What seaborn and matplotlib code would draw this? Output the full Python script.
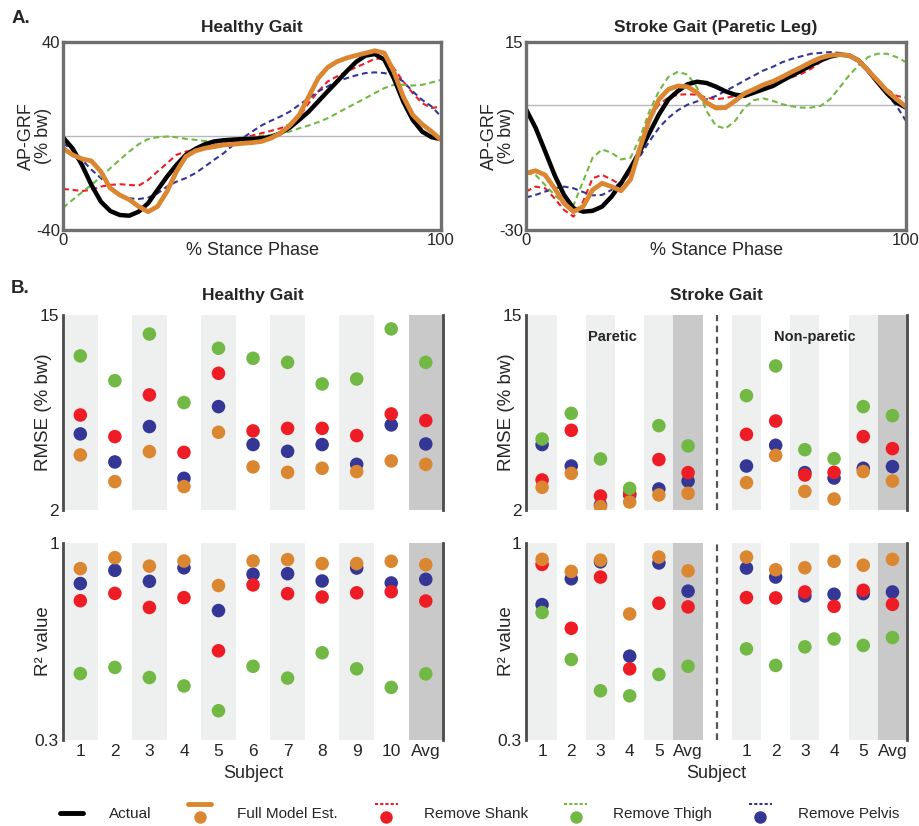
import numpy as np
import pandas as pd
import matplotlib
matplotlib.use("Agg")
import matplotlib.pyplot as plt
import seaborn as sns
from matplotlib.lines import Line2D
from matplotlib.legend_handler import HandlerBase

sns.set_style("white")
plt.rcParams['font.family'] = ['Liberation Sans', 'DejaVu Sans']
plt.rcParams['axes.unicode_minus'] = False

# ---- A. AP-GRF over stance (values every 2.5 %) ----
pct = np.arange(0, 100.1, 2.5)

healthy_actual = [-0.6, -5.2, -12.3, -20.8, -27.9, -31.9, -33.6, -33.9, -32.2, -28.6, -22.9,
                  -17.3, -12.3, -8.0, -5.5, -3.5, -2.3, -1.8, -1.5, -1.3, -1.2, -0.9, -0.4,
                  1.2, 3.6, 6.9, 10.4, 14.7, 19.0, 23.2, 27.5, 31.5, 34.2, 34.9, 32.5, 24.6,
                  14.7, 6.9, 1.9, -0.5, -1.3]
healthy_full = [-5.2, -8.0, -9.7, -10.6, -15.1, -22.2, -25.1, -27.0, -30.0, -32.2, -30.0,
                -23.6, -15.1, -8.7, -6.3, -5.2, -4.5, -3.8, -3.5, -3.1, -2.8, -2.3, -0.9,
                1.2, 4.5, 9.0, 16.8, 24.6, 29.2, 31.7, 33.2, 34.3, 35.3, 36.3, 35.3, 27.5,
                16.8, 9.0, 5.0, 1.9, -1.6]
healthy_shank = [-22.5, -22.9, -23.4, -22.9, -21.5, -20.8, -20.5, -20.8, -21.1, -18.7, -15.1,
                 -11.6, -8.0, -6.6, -5.9, -4.5, -3.8, -3.1, -2.3, -0.9, 0.2, 1.2, 2.2, 3.3,
                 5.0, 8.3, 14.0, 19.0, 23.2, 25.4, 27.5, 29.2, 31.0, 32.9, 32.9, 28.9, 23.2,
                 18.3, 14.0, 11.9, 12.6]
healthy_thigh = [-30.5, -27.2, -23.9, -20.8, -17.3, -13.7, -10.1, -6.6, -3.5, -1.3, -0.5,
                 -0.2, -0.5, -1.2, -1.6, -2.1, -2.1, -1.9, -1.6, -0.9, -0.5, 0.1, 0.5, 1.2,
                 1.9, 3.3, 4.5, 5.9, 7.6, 9.7, 11.9, 14.0, 16.1, 18.3, 20.4, 21.8, 21.8,
                 21.5, 21.8, 22.8, 23.9]
healthy_pelvis = [-3.1, -5.9, -10.1, -14.3, -17.9, -21.5, -25.1, -26.5, -26.8, -26.2, -24.4,
                  -21.5, -19.4, -17.9, -15.8, -13.0, -10.1, -7.3, -3.8, -0.9, 1.9, 4.5, 6.5,
                  8.3, 10.4, 13.3, 16.1, 19.0, 21.1, 23.2, 24.6, 25.8, 26.8, 27.1, 26.8,
                  25.8, 23.2, 19.0, 15.4, 12.6, 8.3]

stroke_actual = [-1.1, -5.5, -11.1, -16.8, -21.6, -24.8, -25.6, -25.4, -24.4, -22.0, -18.8,
                 -15.1, -11.1, -6.7, -2.3, 1.3, 3.3, 4.9, 5.5, 5.2, 4.3, 3.2, 2.4, 2.1, 2.9,
                 3.7, 4.5, 5.8, 7.0, 8.2, 9.4, 10.6, 11.5, 12.0, 11.8, 10.6, 8.2, 5.4, 2.7,
                 0.5, -0.7]
stroke_full = [-16.4, -15.8, -16.8, -20.0, -23.6, -25.6, -24.4, -20.4, -18.8, -19.6, -20.6,
               -17.9, -10.3, -3.5, 1.3, 3.7, 4.5, 4.3, 2.9, 0.5, -0.8, -0.7, 0.9, 2.7, 3.7,
               4.8, 5.6, 6.7, 7.9, 9.0, 10.2, 11.2, 11.8, 12.0, 11.8, 10.6, 8.2, 5.8, 3.3,
               1.3, -0.5]
stroke_shank = [-20.8, -19.6, -20.0, -22.4, -25.2, -26.8, -23.2, -17.6, -16.8, -17.9, -19.2,
                -16.0, -9.5, -3.5, 0.1, 1.7, 2.4, 2.5, 2.4, 1.7, 1.3, 1.6, 2.1, 2.9, 3.7,
                4.3, 5.0, 5.8, 6.6, 7.4, 8.6, 10.2, 11.4, 12.0, 11.8, 10.6, 8.2, 5.8, 3.7,
                2.1, 1.7]
stroke_thigh = [-16.4, -16.8, -19.2, -21.6, -23.6, -24.0, -18.4, -12.7, -10.7, -11.5, -13.1,
                -12.7, -7.9, -1.5, 3.3, 6.7, 7.9, 7.2, 4.1, -1.5, -5.1, -5.7, -3.9, -0.7,
                1.1, 1.5, 0.9, 0.1, -0.4, -0.7, -0.7, -0.3, 1.3, 4.1, 7.0, 9.4, 11.4, 12.2,
                12.2, 11.4, 10.2]
stroke_pelvis = [-22.2, -21.6, -20.8, -20.0, -19.6, -20.0, -20.9, -21.7, -21.6, -20.4, -18.4,
                 -15.5, -12.3, -8.7, -5.5, -3.1, -1.3, 0.0, 0.8, 1.3, 2.1, 3.3, 4.5, 5.8,
                 7.0, 8.2, 9.1, 10.2, 11.0, 11.6, 12.2, 12.4, 12.6, 12.4, 11.8, 10.2, 7.8,
                 5.4, 2.5, -0.3, -3.9]

# ---- B. per-subject errors ----
healthy_labels = ['1', '2', '3', '4', '5', '6', '7', '8', '9', '10', 'Avg']
healthy_rmse_full = [5.67, 3.89, 5.89, 3.56, 7.18, 4.87, 4.51, 4.78, 4.56, 5.27, 5.04]
healthy_rmse_shank = [8.33, 6.89, 9.67, 5.84, 11.11, 7.27, 7.44, 7.44, 6.96, 8.40, 7.96]
healthy_rmse_thigh = [12.27, 10.62, 13.73, 9.16, 12.78, 12.11, 11.84, 10.40, 10.73, 14.07, 11.84]
healthy_rmse_pelvis = [7.07, 5.20, 7.56, 4.11, 8.89, 6.36, 5.91, 6.36, 5.04, 7.67, 6.40]
healthy_r2_full = [0.909, 0.948, 0.918, 0.936, 0.849, 0.936, 0.941, 0.927, 0.927, 0.935, 0.923]
healthy_r2_shank = [0.795, 0.821, 0.771, 0.806, 0.617, 0.851, 0.820, 0.808, 0.823, 0.827, 0.794]
healthy_r2_thigh = [0.536, 0.558, 0.522, 0.492, 0.404, 0.562, 0.520, 0.610, 0.553, 0.487, 0.535]
healthy_r2_pelvis = [0.856, 0.903, 0.864, 0.912, 0.760, 0.889, 0.891, 0.865, 0.911, 0.858, 0.871]

# paretic 1-5, Avg, then non-paretic 1-5, Avg
stroke_labels = ['1', '2', '3', '4', '5', 'Avg', '1', '2', '3', '4', '5', 'Avg']
stroke_rmse_full = [3.51, 4.44, 2.22, 2.53, 3.00, 3.11, 3.82, 5.64, 3.24, 2.73, 4.56, 3.93]
stroke_rmse_shank = [4.00, 7.31, 2.93, 3.11, 5.36, 4.49, 7.04, 7.93, 4.33, 4.51, 6.89, 6.09]
stroke_rmse_thigh = [6.73, 8.44, 5.40, 3.44, 7.62, 6.27, 9.62, 11.60, 6.02, 5.42, 8.89, 8.29]
stroke_rmse_pelvis = [6.36, 4.93, 2.33, 3.00, 3.40, 3.93, 4.93, 6.31, 4.49, 4.13, 4.78, 4.89]
stroke_r2_full = [0.942, 0.899, 0.939, 0.748, 0.950, 0.901, 0.950, 0.905, 0.912, 0.935, 0.921, 0.942]
stroke_r2_shank = [0.924, 0.697, 0.879, 0.553, 0.786, 0.773, 0.806, 0.805, 0.826, 0.775, 0.832, 0.782]
stroke_r2_thigh = [0.753, 0.586, 0.475, 0.457, 0.533, 0.562, 0.624, 0.565, 0.631, 0.659, 0.636, 0.664]
stroke_r2_pelvis = [0.781, 0.873, 0.933, 0.598, 0.929, 0.829, 0.911, 0.879, 0.812, 0.818, 0.820, 0.826]

colors = {'Actual': '#000000', 'Full Model Est.': '#DB8630', 'Remove Shank': '#EE1D25',
          'Remove Thigh': '#72B844', 'Remove Pelvis': '#343795'}
dash = (0, (2.8, 1.8))


def curve_panel(ax, series, ylim, title):
    ax.axhline(0, color='#b8b8b8', lw=1, zorder=1)
    for name, vals, lw, ls in series:
        sns.lineplot(x=pct, y=np.array(vals), ax=ax, color=colors[name], linewidth=lw,
                     linestyle=ls, errorbar=None, sort=False)
    ax.set_xlim(0, 100)
    ax.set_ylim(*ylim)
    ax.set_xticks([0, 100])
    ax.set_yticks(list(ylim))
    ax.tick_params(length=0, pad=2, labelsize=12)
    for sp in ax.spines.values():
        sp.set_color('#6f6f6f')
        sp.set_linewidth(2.4)
    ax.set_title(title, fontsize=12.5, fontweight='bold', pad=7)
    ax.set_xlabel('% Stance Phase', fontsize=13)
    ax.xaxis.set_label_coords(0.5, -0.065)
    ax.set_ylabel('AP-GRF\n(% bw)', fontsize=13, linespacing=1.0)
    ax.yaxis.set_label_coords(-0.028, 0.5)


def dot_table(pos, full, shank, thigh, pelvis):
    rows = []
    # drawing order: pelvis, shank, thigh, then full model on top
    for name, vals in [('Remove Pelvis', pelvis), ('Remove Shank', shank),
                       ('Remove Thigh', thigh), ('Full Model Est.', full)]:
        for p, v in zip(pos, vals):
            rows.append({'pos': p, 'val': v, 'model': name})
    return pd.DataFrame(rows)


def dot_panel(ax, pos, data, light, dark, xlim, ylim, ylabel, labels=None, split=None):
    for p in light:
        ax.axvspan(p - 0.5, p + 0.5, color='#EEF0EF', lw=0, zorder=0)
    for p in dark:
        ax.axvspan(p - 0.5, p + 0.5, color='#C9C9C9', lw=0, zorder=0)
    if split is not None:
        ax.axvline(split, color='#555555', lw=1.6, ls=(0, (3, 2)), zorder=1)
    sns.scatterplot(data=data, x='pos', y='val', hue='model', palette=colors, s=95,
                    edgecolor='none', linewidth=0, legend=False, ax=ax, zorder=3)
    ax.set_xlim(*xlim)
    ax.set_ylim(*ylim)
    ax.set_yticks(list(ylim))
    ax.set_yticklabels([f'{v:g}' for v in ylim])
    if labels is None:
        ax.set_xticks([])
        ax.set_xlabel('')
    else:
        ax.set_xticks(pos)
        ax.set_xticklabels(labels)
        ax.set_xlabel('Subject', fontsize=13)
        ax.xaxis.set_label_coords(0.5, -0.125)
    ax.tick_params(length=0, pad=3, labelsize=12.5)
    for s in ['top', 'bottom']:
        ax.spines[s].set_visible(False)
    for s in ['left', 'right']:
        ax.spines[s].set_color('#4a4a4a')
        ax.spines[s].set_linewidth(2)
    ax.set_ylabel(ylabel, fontsize=13.5)
    ax.yaxis.set_label_coords(-0.028, 0.5)


fig = plt.figure(figsize=(9.19, 8.26), dpi=100)

ax_h = fig.add_axes([0.0686, 0.7215, 0.4113, 0.2276])
ax_s = fig.add_axes([0.5724, 0.7215, 0.4135, 0.2276])

curve_panel(ax_h, [('Remove Shank', healthy_shank, 1.5, dash),
                   ('Remove Pelvis', healthy_pelvis, 1.5, dash),
                   ('Remove Thigh', healthy_thigh, 1.5, dash),
                   ('Actual', healthy_actual, 3.2, '-'),
                   ('Full Model Est.', healthy_full, 3.4, '-')],
            (-40, 40), 'Healthy Gait')
curve_panel(ax_s, [('Remove Shank', stroke_shank, 1.5, dash),
                   ('Remove Pelvis', stroke_pelvis, 1.5, dash),
                   ('Remove Thigh', stroke_thigh, 1.5, dash),
                   ('Actual', stroke_actual, 3.2, '-'),
                   ('Full Model Est.', stroke_full, 3.4, '-')],
            (-30, 15), 'Stroke Gait (Paretic Leg)')

h_pos = np.arange(len(healthy_labels))
s_pos = np.r_[0:6, 7:13]

ax_hr = fig.add_axes([0.0686, 0.3826, 0.4135, 0.2361])
ax_hq = fig.add_axes([0.0686, 0.1041, 0.4135, 0.2385])
ax_sr = fig.add_axes([0.5724, 0.3826, 0.4146, 0.2361])
ax_sq = fig.add_axes([0.5724, 0.1041, 0.4146, 0.2385])

dot_panel(ax_hr, h_pos, dot_table(h_pos, healthy_rmse_full, healthy_rmse_shank,
                                  healthy_rmse_thigh, healthy_rmse_pelvis),
          [0, 2, 4, 6, 8], [10], (-0.5, 10.5), (2, 15), 'RMSE (% bw)')
dot_panel(ax_hq, h_pos, dot_table(h_pos, healthy_r2_full, healthy_r2_shank,
                                  healthy_r2_thigh, healthy_r2_pelvis),
          [0, 2, 4, 6, 8], [10], (-0.5, 10.5), (0.3, 1), 'R² value', labels=healthy_labels)
dot_panel(ax_sr, s_pos, dot_table(s_pos, stroke_rmse_full, stroke_rmse_shank,
                                  stroke_rmse_thigh, stroke_rmse_pelvis),
          [0, 2, 4, 7, 9, 11], [5, 12], (-0.55, 12.5), (2, 15), 'RMSE (% bw)', split=6)
dot_panel(ax_sq, s_pos, dot_table(s_pos, stroke_r2_full, stroke_r2_shank,
                                  stroke_r2_thigh, stroke_r2_pelvis),
          [0, 2, 4, 7, 9, 11], [5, 12], (-0.55, 12.5), (0.3, 1), 'R² value',
          labels=stroke_labels, split=6)

ax_hr.set_title('Healthy Gait', fontsize=12.5, fontweight='bold', pad=11)
ax_sr.set_title('Stroke Gait', fontsize=12.5, fontweight='bold', pad=11)
ax_sr.text(2.4, 13.5, 'Paretic', ha='center', va='center', fontsize=10.5, fontweight='bold')
ax_sr.text(9.35, 13.5, 'Non-paretic', ha='center', va='center', fontsize=10.5,
           fontweight='bold')

fig.text(0.013, 0.978, 'A.', fontsize=13.5, fontweight='bold', va='center')
fig.text(0.012, 0.651, 'B.', fontsize=13.5, fontweight='bold', va='center')


class LineOverDot(HandlerBase):
    # legend key: short line on top, dot underneath
    def create_artists(self, legend, orig_handle, xdescent, ydescent, width, height,
                       fontsize, trans):
        x0, y0 = -xdescent, -ydescent
        bar = Line2D([x0, x0 + width], [y0 + 1.35 * height] * 2)
        bar.update_from(orig_handle)
        dot = Line2D([x0 + 0.5 * width], [y0 + 0.15 * height], ls='none', marker='o',
                     ms=9, mec='none', color=orig_handle.get_color())
        bar.set_transform(trans)
        dot.set_transform(trans)
        return [bar, dot]


names = ['Actual', 'Full Model Est.', 'Remove Shank', 'Remove Thigh', 'Remove Pelvis']
handles = [Line2D([], [], color=colors['Actual'], lw=3.5),
           Line2D([], [], color=colors['Full Model Est.'], lw=3.5)]
handles += [Line2D([], [], color=colors[n], lw=1.5, ls=(0, (1.5, 1))) for n in names[2:]]
fig.legend(handles, names, handler_map={h: LineOverDot() for h in handles[1:]},
           loc='center', bbox_to_anchor=(0.522, 0.014), ncol=5, frameon=False,
           fontsize=11, handlelength=1.5, handletextpad=1.7, columnspacing=2.4)

fig.savefig('out.png', dpi=100)
